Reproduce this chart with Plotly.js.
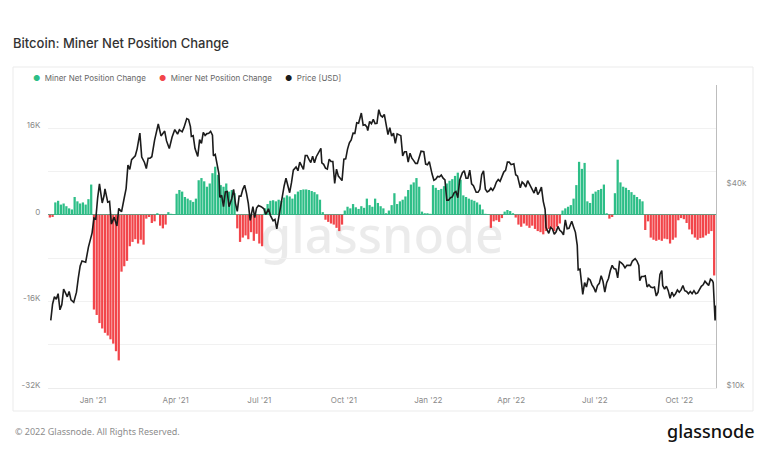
<!DOCTYPE html>
<html><head><meta charset="utf-8">
<script src="https://cdn.plot.ly/plotly-3.0.1.min.js"></script>
<style>html,body{margin:0;padding:0;background:#fff}#chart{width:768px;height:463px}</style>
</head><body><div id="chart"></div>
<script>
// ---- data ----
const barStart = '2020-11-15';
const barStepDays = 3;
// Miner net position change, thousands of BTC, one bar every 3 days
const netPositionK = [
-0.5,-0.4,2.3,2.6,1.9,2.1,1.6,1.2,1.0,3.3,2.5,2.1,2.3,1.9,2.9,5.6,
-17.5,-18.5,-20.0,-21.0,-21.8,-22.3,-23.0,-23.8,-25.2,-26.9,-10.5,-9.5,-8.5,-5.8,-5.0,-4.5,-5.3,-4.6,-5.5,
-0.7,-0.4,-1.5,-1.2,0.3,-2.0,-2.5,-1.8,0.5,0.2,0.1,
3.9,4.6,4.3,3.3,3.0,2.7,2.4,3.0,6.4,6.8,6.2,5.2,5.8,7.7,8.9,7.4,5.5,5.2,5.8,4.3,4.6,4.0,
-2.5,-5.0,-4.2,-3.8,-4.5,-3.2,-4.8,-3.5,-5.3,-5.8,
1.2,2.0,2.6,2.7,2.5,2.8,2.6,3.2,3.6,3.4,3.0,3.8,4.3,4.6,4.7,4.7,4.6,4.4,4.2,3.8,2.8,0.5,
-0.9,-1.3,-1.6,-1.8,-2.4,-3.0,-1.8,
0.8,1.5,1.2,2.0,1.4,1.1,1.6,1.3,3.0,1.8,1.5,3.0,2.2,1.6,
1.2,0.3,0.8,1.8,4.0,2.0,2.5,2.8,3.4,4.6,5.6,6.0,6.8,5.2,0.6,0.3,0.3,0.2,
5.5,5.0,4.6,4.8,5.3,5.8,6.3,6.6,7.2,7.8,6.5,3.6,3.3,3.0,2.8,2.6,2.3,1.9,1.0,0.2,0.1,
-2.4,-1.2,-1.0,-1.3,-0.6,0.6,0.9,0.7,0.3,
-0.5,-1.8,-2.2,-1.6,-2.0,-2.4,-2.0,-2.6,-3.0,-3.2,-3.6,-3.0,-2.6,-2.4,-3.0,-2.2,-1.6,
0.8,1.2,1.5,1.8,3.0,5.5,9.8,8.5,9.6,2.5,2.2,3.9,4.3,4.6,4.8,5.6,0.3,
-0.7,-0.4,
4.0,10.2,6.0,5.2,5.0,4.6,4.2,3.7,3.3,2.9,2.5,
-2.8,-1.2,-4.2,-4.6,-4.8,-4.6,-4.8,-4.4,-4.5,-5.3,-4.6,-4.2,-1.0,-0.6,-0.8,-1.5,-2.7,-3.6,-4.2,-4.6,-4.3,-4.2,-3.8,-3.5,-3.0,-11.2
];
// BTC price, thousands of USD
const priceDates = [
'2020-11-16','2020-11-18','2020-11-20','2020-11-22','2020-11-24','2020-11-26','2020-11-28','2020-11-30',
'2020-12-02','2020-12-04','2020-12-06','2020-12-08','2020-12-11','2020-12-14','2020-12-16','2020-12-18','2020-12-20','2020-12-22','2020-12-24','2020-12-27','2020-12-29','2020-12-31',
'2021-01-02','2021-01-04','2021-01-06','2021-01-08','2021-01-11','2021-01-13','2021-01-14','2021-01-17','2021-01-19','2021-01-21','2021-01-24','2021-01-27','2021-01-29',
'2021-02-01','2021-02-04','2021-02-06','2021-02-08','2021-02-10','2021-02-12','2021-02-14','2021-02-16','2021-02-18','2021-02-21','2021-02-23','2021-02-26','2021-02-28',
'2021-03-02','2021-03-04','2021-03-06','2021-03-09','2021-03-13','2021-03-16','2021-03-18','2021-03-20','2021-03-22','2021-03-25','2021-03-28','2021-03-31',
'2021-04-03','2021-04-05','2021-04-08','2021-04-10','2021-04-13','2021-04-15','2021-04-17','2021-04-18','2021-04-20','2021-04-22','2021-04-25','2021-04-27','2021-04-29',
'2021-05-01','2021-05-03','2021-05-05','2021-05-07','2021-05-09','2021-05-11','2021-05-12','2021-05-14','2021-05-16','2021-05-18','2021-05-19','2021-05-21','2021-05-23','2021-05-25','2021-05-27','2021-05-29',
'2021-06-01','2021-06-03','2021-06-05','2021-06-07','2021-06-09','2021-06-11','2021-06-13','2021-06-15','2021-06-17','2021-06-19','2021-06-21','2021-06-22','2021-06-24','2021-06-26','2021-06-28','2021-06-30',
'2021-07-03','2021-07-06','2021-07-08','2021-07-11','2021-07-13','2021-07-16','2021-07-18','2021-07-20','2021-07-22','2021-07-24','2021-07-26','2021-07-28','2021-07-30',
'2021-08-01','2021-08-03','2021-08-05','2021-08-07','2021-08-10','2021-08-12','2021-08-14','2021-08-16','2021-08-18','2021-08-20','2021-08-22','2021-08-24','2021-08-26','2021-08-28','2021-08-30',
'2021-09-01','2021-09-03','2021-09-06','2021-09-07','2021-09-09','2021-09-11','2021-09-13','2021-09-15','2021-09-17','2021-09-19','2021-09-21','2021-09-23','2021-09-25','2021-09-27','2021-09-29',
'2021-10-01','2021-10-03','2021-10-05','2021-10-07','2021-10-09','2021-10-11','2021-10-13','2021-10-15','2021-10-17','2021-10-19','2021-10-20','2021-10-22','2021-10-24','2021-10-26','2021-10-27','2021-10-29','2021-10-31',
'2021-11-02','2021-11-04','2021-11-06','2021-11-08','2021-11-10','2021-11-12','2021-11-14','2021-11-16','2021-11-18','2021-11-20','2021-11-22','2021-11-24','2021-11-26','2021-11-28','2021-11-30',
'2021-12-02','2021-12-04','2021-12-06','2021-12-08','2021-12-10','2021-12-12','2021-12-14','2021-12-16','2021-12-18','2021-12-20','2021-12-22','2021-12-24','2021-12-27','2021-12-29','2021-12-31',
'2022-01-02','2022-01-05','2022-01-07','2022-01-09','2022-01-11','2022-01-13','2022-01-15','2022-01-17','2022-01-19','2022-01-21','2022-01-23','2022-01-25','2022-01-27','2022-01-29','2022-01-31',
'2022-02-02','2022-02-04','2022-02-07','2022-02-09','2022-02-11','2022-02-13','2022-02-15','2022-02-17','2022-02-19','2022-02-22','2022-02-24','2022-02-26','2022-02-28',
'2022-03-02','2022-03-04','2022-03-06','2022-03-08','2022-03-10','2022-03-12','2022-03-14','2022-03-16','2022-03-18','2022-03-20','2022-03-22','2022-03-24','2022-03-26','2022-03-28','2022-03-30',
'2022-04-01','2022-04-04','2022-04-06','2022-04-08','2022-04-11','2022-04-13','2022-04-15','2022-04-17','2022-04-19','2022-04-21','2022-04-23','2022-04-26','2022-04-28','2022-04-30',
'2022-05-02','2022-05-04','2022-05-06','2022-05-08','2022-05-09','2022-05-11','2022-05-12','2022-05-14','2022-05-16','2022-05-18','2022-05-20','2022-05-22','2022-05-24','2022-05-26','2022-05-28','2022-05-30',
'2022-06-01','2022-06-03','2022-06-06','2022-06-08','2022-06-10','2022-06-12','2022-06-13','2022-06-15','2022-06-17','2022-06-18','2022-06-20','2022-06-22','2022-06-24','2022-06-26','2022-06-28','2022-06-30',
'2022-07-02','2022-07-04','2022-07-06','2022-07-08','2022-07-10','2022-07-12','2022-07-14','2022-07-16','2022-07-18','2022-07-20','2022-07-22','2022-07-24','2022-07-26','2022-07-28','2022-07-30',
'2022-08-01','2022-08-03','2022-08-05','2022-08-07','2022-08-09','2022-08-11','2022-08-14','2022-08-16','2022-08-18','2022-08-19','2022-08-21','2022-08-23','2022-08-25','2022-08-27','2022-08-29','2022-08-31',
'2022-09-02','2022-09-04','2022-09-06','2022-09-08','2022-09-10','2022-09-12','2022-09-13','2022-09-15','2022-09-17','2022-09-19','2022-09-21','2022-09-23','2022-09-25','2022-09-27','2022-09-29',
'2022-10-01','2022-10-03','2022-10-05','2022-10-07','2022-10-09','2022-10-11','2022-10-13','2022-10-15','2022-10-17','2022-10-19','2022-10-21','2022-10-23','2022-10-25','2022-10-27','2022-10-29','2022-10-31',
'2022-11-02','2022-11-04','2022-11-06','2022-11-07','2022-11-08','2022-11-09','2022-11-10'
];
const priceUSDk = [
15.9,17.8,18.7,18.4,19.1,17.1,17.7,19.7,
19.2,18.7,19.4,18.3,18.0,19.3,21.3,23.1,23.9,23.8,23.7,26.3,27.4,29.0,
32.1,31.9,36.8,40.6,35.6,37.4,39.2,35.8,36.0,30.8,32.3,30.4,34.3,
33.5,36.9,39.3,46.2,44.8,47.9,48.7,49.2,51.6,57.5,48.8,47.0,45.1,
48.4,48.4,48.9,54.8,61.2,56.4,57.6,58.3,54.5,51.7,55.9,58.9,
57.1,58.8,58.0,59.8,63.5,63.1,60.1,56.2,56.5,51.7,49.0,55.0,53.6,
57.8,56.6,57.3,57.4,58.2,56.7,49.2,49.7,46.4,43.5,37.0,37.5,34.7,38.4,38.5,34.7,
36.7,39.1,35.5,33.6,37.3,37.3,39.1,40.2,38.1,35.5,31.6,32.5,34.7,32.2,34.4,35.0,
34.7,34.2,32.9,34.2,32.7,31.5,31.8,29.8,32.3,34.3,37.3,40.0,42.2,
39.9,38.2,40.9,44.6,45.6,44.4,47.1,45.9,44.8,49.3,49.3,48.0,47.0,49.1,46.9,
48.9,50.0,51.8,46.9,46.4,45.2,44.9,48.1,47.3,47.3,40.7,44.9,42.8,42.2,41.5,
48.1,48.2,51.5,53.8,54.9,57.5,57.4,61.7,61.5,64.3,66.0,60.7,60.9,60.0,58.5,62.3,61.3,
63.2,61.4,61.5,67.5,64.9,64.2,65.4,60.3,56.9,59.7,56.3,57.5,53.6,57.2,57.0,
56.5,49.2,50.6,50.6,47.1,50.1,48.4,47.6,46.7,46.7,48.6,50.8,50.6,46.5,46.3,
47.3,43.4,41.6,41.9,42.7,42.6,43.1,42.2,41.7,36.3,36.3,36.9,37.1,38.2,38.5,
36.9,41.6,43.8,44.4,42.2,42.2,44.6,40.6,40.1,38.3,38.3,39.1,43.2,
44.4,39.1,38.4,38.7,39.4,38.8,39.7,41.1,41.8,41.3,42.4,44.0,44.5,47.1,47.1,
46.3,46.6,43.2,42.8,39.5,41.1,40.6,39.7,41.5,40.5,39.5,38.1,39.7,37.7,
38.5,39.7,36.0,34.1,30.1,29.0,28.9,30.1,29.8,28.7,29.2,30.3,29.5,29.2,28.6,31.7,
29.8,29.9,31.4,30.2,29.1,26.6,22.5,22.6,20.4,19.0,20.6,20.0,21.2,21.0,20.3,19.9,
19.3,20.2,20.5,21.6,20.8,19.3,20.6,21.2,22.4,23.2,22.7,22.6,21.3,23.8,23.6,
23.3,22.8,23.2,23.2,23.2,23.9,24.3,23.9,23.2,20.9,21.5,21.5,21.6,20.0,20.3,20.0,
19.9,20.0,18.8,19.3,21.8,22.4,20.2,19.7,20.1,19.5,18.5,19.3,18.8,19.1,19.6,
19.3,19.6,20.2,19.5,19.4,19.1,19.4,19.1,19.5,19.1,19.2,19.6,20.1,20.3,20.8,20.5,
20.2,21.1,20.9,20.6,18.5,15.9,17.6
];
const seriesNames = ['Miner Net Position Change','Miner Net Position Change','Price [USD]'];
const xTickVals = ['2021-01-01','2021-04-01','2021-07-01','2021-10-01','2022-01-01','2022-04-01','2022-07-01','2022-10-01'];
const xTickText = ["Jan '21","Apr '21","Jul '21","Oct '21","Jan '22","Apr '22","Jul '22","Oct '22"];
const yTickVals = [-32,-24,-16,-8,0,8,16,24];
const yTickText = ['-32K','','-16K','','0','','16K',''];
const y2TickVals = [10,40];
const y2TickText = ['$10k','$40k'];

// ---- build ----
const GREEN = '#2dbe87', RED = '#f2454a', BLACK = '#1c1c1c';
const COLORS = [GREEN, RED, BLACK];
const t0 = new Date(barStart + 'T00:00:00Z').getTime();
const barDates = netPositionK.map((v, i) => new Date(t0 + i * barStepDays * 86400000).toISOString().slice(0, 10));
const posVals = netPositionK.map(v => v >= 0 ? v : null);
const negVals = netPositionK.map(v => v < 0 ? v : null);

const traces = [
  {type:'bar', x:barDates, y:posVals, marker:{color:GREEN, line:{width:0}}, name:seriesNames[0]},
  {type:'bar', x:barDates, y:negVals, marker:{color:RED, line:{width:0}}, name:seriesNames[1]},
  {type:'scatter', mode:'lines', x:priceDates, y:priceUSDk, yaxis:'y2', line:{color:BLACK, width:1.6}, name:seriesNames[2]}
];

// legend drawn as a row of text entries (dot + label), like the source
const legendX = [31, 157, 283];
const legendAnn = seriesNames.map((n, k) => ({
  text:'<span style="color:' + COLORS[k] + '">●</span>  ' + n,
  xref:'paper', yref:'paper', x:(legendX[k]-48)/668, xanchor:'left', y:(388-78)/303, yanchor:'middle',
  showarrow:false, font:{family:'Inter, Noto Sans, sans-serif', size:8, color:'#666666'}
}));

const tickFont = {family:'Inter, Noto Sans, sans-serif', size:8, color:'#8a8a8a'};
const layout = {
  width:768, height:463,
  margin:{l:48, r:52, t:85, b:75},
  paper_bgcolor:'#ffffff', plot_bgcolor:'#ffffff',
  barmode:'relative', bargap:0.18,
  title:{text:'Bitcoin: Miner Net Position Change', xref:'container', yref:'container', x:13/768, xanchor:'left', y:1-43/463, yanchor:'middle',
         font:{family:'Inter, Noto Sans, sans-serif', size:13, color:'#333333', weight:500}},
  showlegend:false,
  xaxis:{type:'date', range:['2020-11-13','2022-11-10'], tickvals:xTickVals, ticktext:xTickText, showgrid:false,
         showline:true, linecolor:'#ececec', linewidth:1, ticks:'outside', ticklen:4, tickcolor:'rgba(0,0,0,0)', tickfont:tickFont, zeroline:false, fixedrange:true},
  yaxis:{range:[-32,24], tickvals:yTickVals, ticktext:yTickText, showgrid:true, gridcolor:'#f1f1f1', gridwidth:1,
         zeroline:true, zerolinecolor:'#5f9f86', zerolinewidth:1, ticks:'outside', ticklen:5, tickcolor:'rgba(0,0,0,0)', tickfont:tickFont, showline:false,
         ticklabelshift:-3},
  yaxis2:{type:'log', range:[1, 1.903], overlaying:'y', side:'right', tickvals:y2TickVals, ticktext:y2TickText, showgrid:false, zeroline:false,
          showline:true, linecolor:'#bdbdbd', linewidth:1, ticks:'outside', ticklen:8, tickcolor:'rgba(0,0,0,0)', tickfont:tickFont,
          ticklabelshift:-3},
  shapes:[
    {type:'rect', xref:'paper', yref:'paper', x0:(13-48)/668, x1:(753-48)/668, y0:(388-411)/303, y1:(388-67)/303,
     line:{color:'#ebebeb', width:1}, fillcolor:'rgba(0,0,0,0)', layer:'below'},
    {type:'rect', xref:'paper', yref:'paper', x0:0.25, x1:0.75, y0:0.35, y1:0.65, line:{width:0}, fillcolor:'rgba(0,0,0,0)', layer:'below',
     label:{text:'glassnode', textposition:'middle center', font:{family:'Noto Sans, sans-serif', size:50, color:'rgba(0,0,0,0.08)', weight:500}}}
  ],
  annotations: legendAnn.concat([
    {text:'© 2022 Glassnode. All Rights Reserved.', xref:'paper', yref:'paper', x:(13-48)/668, xanchor:'left', y:(388-431)/303, yanchor:'middle',
     showarrow:false, font:{family:'Noto Sans, sans-serif', size:9, color:'#8c8c8c'}},
    {text:'glassnode', xref:'paper', yref:'paper', x:(757-48)/668, xanchor:'right', y:(388-431)/303, yanchor:'middle',
     showarrow:false, font:{family:'Noto Sans, sans-serif', size:18, color:'#111111', weight:500}}
  ])
};
Plotly.newPlot('chart', traces, layout, {displayModeBar:false, staticPlot:true});
</script>
</body></html>
